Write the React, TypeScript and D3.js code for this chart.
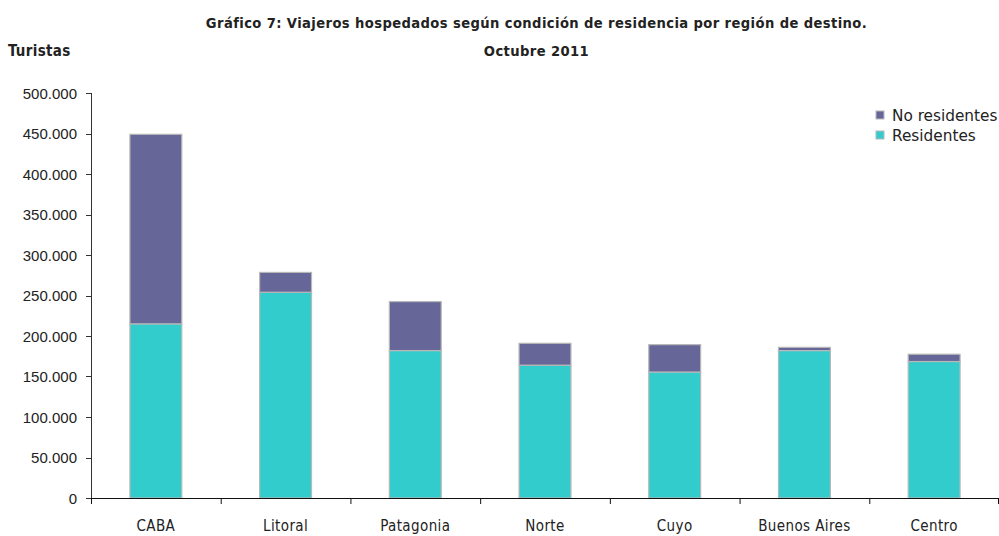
import React from "react";
import * as d3 from "d3";

const categories = ["CABA", "Litoral", "Patagonia", "Norte", "Cuyo", "Buenos Aires", "Centro"];
const residentes = [215000, 254000, 182000, 164000, 155500, 182000, 168500];
const noResidentes = [234000, 24500, 60500, 27000, 33800, 4000, 9000];
const yTicks = [0, 50000, 100000, 150000, 200000, 250000, 300000, 350000, 400000, 450000, 500000];
const seriesNames = ["No residentes", "Residentes"];
const colors = { res: "#33CCCC", nores: "#666699" };

const fmt = (v: number) => (v === 0 ? "0" : d3.format(",")(v).replace(/,/g, "."));

export default function App() {
  const W = 999, H = 536;
  const x0 = 91, x1 = 999, yTop = 93, yBot = 498;
  const x = d3.scaleBand().domain(categories).range([x0, x1]).paddingInner(0.6).paddingOuter(0.3);
  const xb = d3.scaleBand().domain(categories).range([x0, x1]);
  const y = d3.scaleLinear().domain([0, 500000]).range([yBot, yTop]);
  const condensed = "'DejaVu Sans Condensed', 'DejaVu Sans', sans-serif";
  return (
    <svg width={W} height={H} style={{ position: "absolute", left: 0, top: 0, background: "#fff" }}>
      <text x={536.5} y={28} textAnchor="middle" fontFamily={condensed} fontWeight="bold" fontSize={14.6} letterSpacing={0.4} fill="#222">
        Gráfico 7: Viajeros hospedados según condición de residencia por región de destino.
      </text>
      <text x={536.5} y={56} textAnchor="middle" fontFamily={condensed} fontWeight="bold" fontSize={14.6} letterSpacing={0.4} fill="#222">
        Octubre 2011
      </text>
      <text x={8} y={56} fontFamily={condensed} fontWeight="bold" fontSize={15} letterSpacing={0.3} fill="#222">
        Turistas
      </text>
      {categories.map((c, i) => {
        const bx = x(c)!;
        const bw = x.bandwidth();
        return (
          <g key={c}>
            <rect x={bx} y={y(residentes[i])} width={bw} height={yBot - y(residentes[i])} fill={colors.res} stroke="#b8b8b8" strokeWidth={1.2} />
            <rect x={bx} y={y(residentes[i] + noResidentes[i])} width={bw} height={y(residentes[i]) - y(residentes[i] + noResidentes[i])} fill={colors.nores} stroke="#b8b8b8" strokeWidth={1.2} />
          </g>
        );
      })}
      <line x1={x0 + 0.5} x2={x0 + 0.5} y1={yTop} y2={yBot} stroke="#333" />
      <line x1={x0} x2={x1} y1={yBot + 0.5} y2={yBot + 0.5} stroke="#111" />
      {yTicks.map((t) => (
        <g key={t}>
          <line x1={86} x2={x0} y1={Math.round(y(t)) + 0.5} y2={Math.round(y(t)) + 0.5} stroke="#333" />
          <text x={77} y={y(t) + 5.5} textAnchor="end" fontFamily="'Liberation Sans', Arial, sans-serif" fontSize={15} fill="#222">
            {fmt(t)}
          </text>
        </g>
      ))}
      {categories.map((c) => (
        <line key={"t" + c} x1={xb(c)! + 0.5} x2={xb(c)! + 0.5} y1={yBot} y2={yBot + 6} stroke="#111" />
      ))}
      <line x1={998.5} x2={998.5} y1={yBot} y2={yBot + 6} stroke="#111" />
      {categories.map((c) => (
        <text key={"l" + c} x={xb(c)! + xb.bandwidth() / 2} y={531} textAnchor="middle" fontFamily={condensed} fontSize={15} letterSpacing={0.4} fill="#222">
          {c}
        </text>
      ))}
      {seriesNames.map((s, i) => (
        <g key={s}>
          <rect x={876} y={111 + i * 20} width={8} height={8} fill={i === 0 ? colors.nores : colors.res} stroke="#b8b8b8" />
          <text x={892} y={121 + i * 20} fontFamily="'DejaVu Sans', sans-serif" fontSize={15.3} fill="#222">
            {s}
          </text>
        </g>
      ))}
    </svg>
  );
}
